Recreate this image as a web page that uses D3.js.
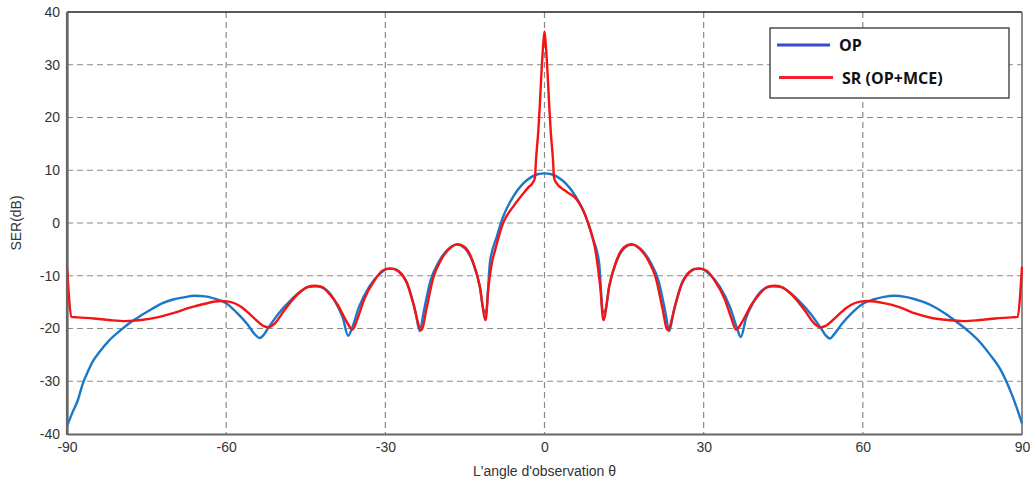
<!DOCTYPE html>
<html><head><meta charset="utf-8">
<script src="https://cdn.jsdelivr.net/npm/d3@7/dist/d3.min.js"></script>
<style>body{margin:0;background:#fff;}svg{display:block;}</style>
</head><body><svg id="chart" width="1035" height="488"></svg>
<script>
// ---- data ----
const xTicks = [-90, -60, -30, 0, 30, 60, 90];
const yTicks = [40, 30, 20, 10, 0, -10, -20, -30, -40];
const seriesNames = ["OP", "SR (OP+MCE)"];
const xLabel = "L'angle d'observation θ";
const yLabel = "SER(dB)";

const opAngles = [-90,-89,-88,-87,-86,-85,-84,-82,-80,-78,-76,-74,-72,-70,-68,-66,-64,-62,-60,-58,-56,-54.5,-53.7,-53,-52,-50,-48,-46,-44.5,-43,-41,-39.5,-38,-37,-36.3,-35,-33,-31,-29.5,-28.5,-27,-25.5,-24.3,-23.5,-22.8,-21.5,-20,-18,-16.5,-15,-13.5,-12.2,-11.5,-11,-10.6,-10.3,-9,-7.8,-5.9,-4,-2.5,-1.3,0,
  1.3,2.5,4,5.9,7.8,9,10.3,10.6,11,11.5,12.2,13.5,15,16.5,18,20,21.5,22.8,23.5,24.3,25.5,27,28.5,29.5,31,33,35,36.3,37,38,39.5,41,43,44.5,46,48,50,52,53,53.8,54.5,56,58,60,62,64,66,68,70,72,74,76,78,80,82,84,86,88,89,90];
const opValues = [-38.5,-36,-33.7,-30.4,-28,-26,-24.6,-22.2,-20.4,-18.8,-17.5,-16.3,-15.2,-14.5,-14.1,-13.8,-13.9,-14.4,-15.2,-17,-19.2,-21.2,-21.8,-21.3,-19.8,-17,-14.8,-13,-12.1,-12,-12.8,-14.8,-18,-21.4,-20,-16,-12,-9.6,-8.7,-8.7,-9.6,-12.5,-17,-20.5,-17,-11,-7.5,-4.8,-4.1,-4.8,-7.5,-12,-16.5,-17,-12,-7.6,-2.6,1.2,5.0,7.5,8.7,9.25,9.4,
  9.25,8.7,7.5,5.0,1.2,-2.6,-7.6,-12,-17,-16.5,-12,-7.5,-4.8,-4.1,-4.8,-7.5,-11,-17,-20.5,-17,-12.5,-9.6,-8.7,-8.7,-9.6,-12,-16,-20,-21.6,-18,-14.8,-12.8,-12,-12.1,-13,-14.8,-17,-19.8,-21.3,-21.9,-21.2,-19.2,-17,-15.3,-14.5,-14,-13.8,-14.0,-14.5,-15.2,-16.2,-17.5,-19.0,-20.6,-22.5,-25,-27.9,-32.3,-35,-38];

const srAngles = [-90,-89.7,-89.2,-88,-85,-82,-79,-76,-73,-70,-67,-64,-61,-59.5,-57,-55,-53,-52,-51,-49,-47,-45,-43.5,-42,-40.5,-39,-37.5,-36.2,-35.2,-34,-32,-30.5,-29,-27.5,-26,-24.8,-23.2,-22.2,-21,-19.5,-17.5,-16.4,-15,-13.5,-12.2,-11.1,-10.6,-10,-9.3,-7.8,-5.9,-4,-3,-2.1,-1.8,-1.6,-1.2,-0.9,-0.6,-0.3,0,
  0.3,0.6,0.9,1.2,1.6,1.8,2.1,4.2,6.1,8,9.8,10.5,11.1,12.2,13.5,15,16.4,17.5,19.5,21,22.2,23.2,24.8,26,27.5,29,30.5,32,34,35.2,36.1,37.5,39,40.5,42,43.5,45,47,49,51,52,53,55,57,59.5,61,64,67,70,73,76,79,82,85,88,89.2,89.7,90];
const srValues = [-8.3,-13,-17.8,-17.9,-18.1,-18.4,-18.6,-18.4,-17.9,-17.1,-16.1,-15.3,-14.8,-14.9,-16,-17.8,-19.5,-19.8,-19.2,-16.5,-14,-12.3,-11.9,-12.1,-13.5,-15.5,-18.3,-20.2,-18,-14.5,-10.8,-9,-8.6,-9.2,-11.2,-15,-20.3,-16,-10.5,-7,-4.5,-4.0,-4.6,-7.3,-12,-18.4,-12.5,-8,-5.1,0,3.1,5.6,6.8,7.8,8.6,12,17,22,28,33,36.3,
  33,28,22,17,12,8.6,7.8,5.9,4.4,0.6,-6.4,-12,-18.4,-12,-7.3,-4.6,-4.0,-4.5,-7,-10.5,-16,-20.3,-15,-11.2,-9.2,-8.6,-9,-10.8,-14.5,-18,-20.2,-18.3,-15.5,-13.5,-12.1,-11.9,-12.3,-14,-16.5,-19.2,-19.8,-19.5,-17.8,-16,-14.9,-14.8,-15.2,-16.0,-17.2,-18.0,-18.4,-18.6,-18.4,-18.1,-17.9,-17.8,-13,-8.3];

// ---- layout ----
const svg = d3.select("#chart");
const L = 67, R = 1022, T = 12, B = 434;
const x = d3.scaleLinear().domain([-90, 90]).range([L, R]);
const y = d3.scaleLinear().domain([-40, 40]).range([B, T]);
const font = "'Liberation Sans', Arial, sans-serif";

// grid
const grid = svg.append("g").attr("stroke", "#8a8a8a").attr("stroke-width", 1.2).attr("stroke-dasharray", "6,4");
xTicks.filter(d => d > -90 && d < 90).forEach(d => {
  grid.append("line").attr("x1", x(d)).attr("x2", x(d)).attr("y1", T).attr("y2", B);
});
yTicks.filter(d => d > -40 && d < 40).forEach(d => {
  grid.append("line").attr("x1", L).attr("x2", R).attr("y1", y(d)).attr("y2", y(d));
});

// frame
svg.append("line").attr("x1", L).attr("x2", R).attr("y1", T).attr("y2", T).attr("stroke", "#222").attr("stroke-width", 1.5);
svg.append("line").attr("x1", R).attr("x2", R).attr("y1", T).attr("y2", B).attr("stroke", "#666").attr("stroke-width", 1.5);

// axes
const fmt = d => String(d);
const xAxis = d3.axisBottom(x).tickValues(xTicks).tickFormat(fmt).tickSize(0).tickPadding(8);
const yAxis = d3.axisLeft(y).tickValues(yTicks).tickFormat(fmt).tickSize(0).tickPadding(7);
const gx = svg.append("g").attr("transform", `translate(0,${B})`).call(xAxis);
const gy = svg.append("g").attr("transform", `translate(${L},0)`).call(yAxis);
[gx, gy].forEach(g => {
  g.select(".domain").attr("stroke", "#666").attr("stroke-width", 2.2);
  g.selectAll("text").attr("font-family", font).attr("font-size", 14).attr("fill", "#333");
});

// clip
svg.append("clipPath").attr("id", "clip").append("rect").attr("x", L).attr("y", T - 2).attr("width", R - L + 1).attr("height", B - T + 2);

const line = d3.line().x(d => x(d[0])).y(d => y(d[1])).curve(d3.curveMonotoneX);
const opData = opAngles.map((a, i) => [a, opValues[i]]);
const srData = srAngles.map((a, i) => [a, srValues[i]]);

const plot = svg.append("g").attr("clip-path", "url(#clip)");
plot.append("path").datum(opData).attr("d", line).attr("fill", "none").attr("stroke", "#1a78c8").attr("stroke-width", 2.4).attr("stroke-linejoin", "round");
plot.append("path").datum(srData).attr("d", line).attr("fill", "none").attr("stroke", "#f51414").attr("stroke-width", 2.4).attr("stroke-linejoin", "round");

// redraw axis line on top
svg.append("line").attr("x1", L).attr("x2", L).attr("y1", T).attr("y2", B + 1).attr("stroke", "#666").attr("stroke-width", 2.2);

// axis titles
svg.append("text").attr("x", (L + R) / 2).attr("y", 476).attr("text-anchor", "middle")
  .attr("font-family", font).attr("font-size", 14).attr("fill", "#333").text(xLabel);
svg.append("text").attr("transform", `translate(21,${(T + B) / 2}) rotate(-90)`).attr("text-anchor", "middle")
  .attr("font-family", font).attr("font-size", 14).attr("fill", "#333").text(yLabel);

// legend
const lg = svg.append("g");
lg.append("rect").attr("x", 770).attr("y", 28).attr("width", 239).attr("height", 70)
  .attr("fill", "#fff").attr("stroke", "#333").attr("stroke-width", 1.3);
const legendColors = ["#3a48d2", "#f0202e"];
const legendY = [45, 77.5];
seriesNames.forEach((n, i) => {
  lg.append("line").attr("x1", 777 + i * 2).attr("x2", 830 + i * 3).attr("y1", legendY[i]).attr("y2", legendY[i])
    .attr("stroke", legendColors[i]).attr("stroke-width", 3);
  lg.append("text").attr("x", 839 + i * 3).attr("y", legendY[i] + 6).attr("font-family", "'Open Sans', sans-serif")
    .attr("font-weight", "bold").attr("font-size", 16).attr("fill", "#111").text(n);
});
</script></body></html>
